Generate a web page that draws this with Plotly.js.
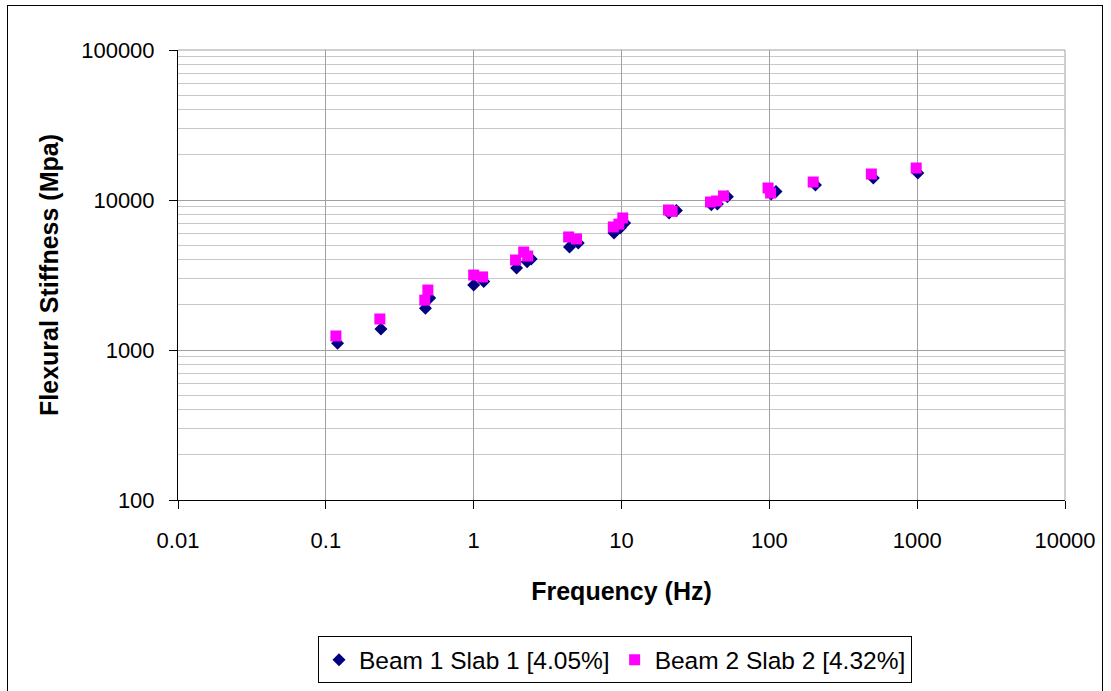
<!DOCTYPE html>
<html>
<head>
<meta charset="utf-8">
<script src="https://cdn.plot.ly/plotly-3.0.1.min.js"></script>
<style>
  html, body { margin: 0; padding: 0; background: #fff; }
  #wrap { position: relative; width: 1111px; height: 691px; overflow: hidden; }
  #frame { position: absolute; left: 7px; top: 5px; width: 1096px; height: 700px; border: 1px solid #000; box-sizing: border-box; }
  #chart { position: absolute; left: 0; top: 0; width: 1111px; height: 691px; }
</style>
</head>
<body>
<div id="wrap">
  <div id="frame"></div>
  <div id="chart"></div>
</div>
<script>
// Series names
const seriesNames = ["Beam 1 Slab 1 [4.05%]", "Beam 2 Slab 2 [4.32%]"];

// Beam 1 Slab 1 (frequency Hz, flexural stiffness MPa)
const beam1Freq  = [0.12, 0.236, 0.472, 0.504, 1.0, 1.17, 1.95, 2.3, 2.45, 4.45, 5.1, 8.9, 9.8, 10.5, 21, 23.5, 40.5, 44.5, 52, 103, 111, 205, 505, 1010];
const beam1Stiff = [1110, 1380, 1900, 2220, 2710, 2860, 3520, 3880, 4050, 4860, 5170, 6030, 6500, 7030, 8190, 8500, 9300, 9400, 10500, 10960, 11400, 12590, 14020, 15140];

// Beam 2 Slab 2
const beam2Freq  = [0.117, 0.232, 0.467, 0.49, 1.0, 1.15, 1.92, 2.18, 2.32, 4.39, 4.96, 8.8, 9.6, 10.2, 20.8, 22, 40, 44, 49, 98, 102, 198, 490, 985];
const beam2Stiff = [1240, 1610, 2150, 2510, 3160, 3070, 3980, 4500, 4230, 5670, 5500, 6610, 6900, 7590, 8580, 8400, 9700, 9850, 10640, 12020, 11130, 13180, 14900, 16340];

// Tick labels
const xTickVals = [0.01, 0.1, 1, 10, 100, 1000, 10000];
const xTickText = ["0.01", "0.1", "1", "10", "100", "1000", "10000"];
const yTickVals = [100, 1000, 10000, 100000];
const yTickText = ["100", "1000", "10000", "100000"];

const FONT = '"Liberation Sans", Arial, Helvetica, sans-serif';

const traces = [
  {
    x: beam1Freq, y: beam1Stiff, name: seriesNames[0],
    type: 'scatter', mode: 'markers',
    marker: { symbol: 'diamond', size: 10, color: '#000080', line: { width: 0 } }
  },
  {
    x: beam2Freq, y: beam2Stiff, name: seriesNames[1],
    type: 'scatter', mode: 'markers',
    marker: { symbol: 'square', size: 11, color: '#FF00FF', line: { width: 0 } }
  }
];

const layout = {
  width: 1111, height: 691,
  paper_bgcolor: 'rgba(0,0,0,0)',
  plot_bgcolor: '#ffffff',
  margin: { l: 178, r: 46, t: 50, b: 191, autoexpand: false },
  font: { family: FONT, size: 22, color: '#000' },
  showlegend: true,
  legend: {
    orientation: 'h',
    x: 0.4927, xanchor: 'center',
    y: -0.303, yanchor: 'top',
    bgcolor: '#fff',
    bordercolor: '#000', borderwidth: 1,
    font: { family: FONT, size: 24.5, color: '#000' },
    itemwidth: 30,
    tracegroupgap: 0
  },
  xaxis: {
    type: 'log',
    range: [-2, 4],
    tickvals: xTickVals, ticktext: xTickText,
    ticks: 'outside', ticklen: 8, tickcolor: '#000', tickwidth: 1,
    ticklabelstandoff: 13,
    showline: true, linecolor: '#000', linewidth: 1,
    showgrid: true, gridcolor: '#a0a0a0', gridwidth: 1,
    zeroline: false,
    tickfont: { family: FONT, size: 22, color: '#000' },
    title: { text: 'Frequency (Hz)', font: { family: FONT, size: 25, color: '#000', weight: 'bold' }, standoff: 30 }
  },
  yaxis: {
    type: 'log',
    range: [2, 5],
    tickvals: yTickVals, ticktext: yTickText,
    ticks: 'outside', ticklen: 8, tickcolor: '#000', tickwidth: 1,
    ticklabelstandoff: 10,
    showline: true, linecolor: '#000', linewidth: 1,
    showgrid: true, gridcolor: '#a0a0a0', gridwidth: 1,
    minor: { showgrid: true, gridcolor: '#c8c8c8', gridwidth: 1, dtick: 'D1', ticks: '' },
    zeroline: false,
    tickfont: { family: FONT, size: 22, color: '#000' },
    title: { text: 'Flexural Stiffness (Mpa)', font: { family: FONT, size: 25, color: '#000', weight: 'bold' }, standoff: 15 }
  },
  shapes: [
    { type: 'line', xref: 'paper', yref: 'paper', x0: 1, x1: 1, y0: 0, y1: 1, line: { color: '#a0a0a0', width: 1 }, layer: 'below' },
    { type: 'line', xref: 'paper', yref: 'paper', x0: 0, x1: 1, y0: 1, y1: 1, line: { color: '#a0a0a0', width: 1 }, layer: 'below' }
  ]
};

Plotly.newPlot('chart', traces, layout, { displayModeBar: false, staticPlot: true });
</script>
</body>
</html>
